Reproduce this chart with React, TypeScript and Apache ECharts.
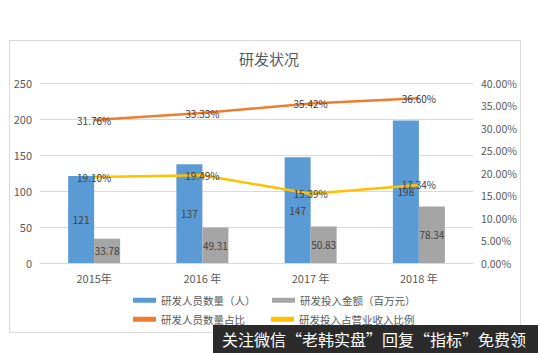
import React, { useEffect, useRef } from "react";
import * as echarts from "echarts";

const categories = ["2015年", "2016 年", "2017 年", "2018 年"];
const staffCount = [121, 137, 147, 198];
const rdSpend = [33.78, 49.31, 50.83, 78.34];
const staffRatio = [31.76, 33.33, 35.42, 36.6];
const spendRatio = [19.1, 19.49, 15.39, 17.34];

const names = ["研发人员数量（人）", "研发投入金额（百万元）", "研发人员数量占比", "研发投入占营业收入比例"];

const FONT = "'Noto Sans CJK SC', 'Microsoft YaHei', sans-serif";
const TXT = "#595959";

export default function App() {
  const ref = useRef<HTMLDivElement>(null);
  useEffect(() => {
    const chart = echarts.init(ref.current!, null, { renderer: "svg" });
    const legendBase = {
      itemWidth: 23,
      itemHeight: 5,
      icon: "rect",
      textStyle: { color: TXT, fontSize: 10.5, fontFamily: FONT },
      itemGap: 2,
    };
    const lineLabel = {
      show: true,
      position: "inside",
      color: "#404040",
      fontSize: 10,
      fontFamily: FONT,
      formatter: (p: any) => p.value.toFixed(2) + "%",
    };
    chart.setOption({
      animation: false,
      backgroundColor: "#fff",
      textStyle: { fontFamily: FONT },
      title: {
        text: "研发状况",
        left: "center",
        top: 46,
        textStyle: { color: TXT, fontSize: 15, fontWeight: "normal", fontFamily: FONT },
      },
      graphic: [
        {
          type: "rect",
          shape: { x: 9.5, y: 40.5, width: 511, height: 292 },
          style: { fill: "none", stroke: "#d9d9d9", lineWidth: 1 },
          z: -1,
        },
        {
          type: "rect",
          shape: { x: 213, y: 325, width: 325, height: 28 },
          style: { fill: "#2b2b2b" },
          z: 100,
        },
        {
          type: "text",
          x: 222,
          y: 339,
          style: {
            text: "关注微信“老韩实盘”回复“指标”免费领",
            fill: "#ffffff",
            fontSize: 16,
            fontFamily: FONT,
            verticalAlign: "middle",
          },
          z: 101,
        },
      ],
      legend: [
        { ...legendBase, data: [names[0]], left: 128, top: 290 },
        { ...legendBase, data: [names[1]], left: 267, top: 290 },
        { ...legendBase, data: [names[2]], left: 128, top: 309 },
        { ...legendBase, data: [names[3]], left: 266, top: 309 },
      ],
      grid: { left: 40, right: 65, top: 83, bottom: 90 },
      xAxis: {
        type: "category",
        data: categories,
        axisTick: { show: false },
        axisLine: { lineStyle: { color: "#d9d9d9" } },
        axisLabel: { color: TXT, fontSize: 11, margin: 9, fontFamily: FONT },
      },
      yAxis: [
        {
          type: "value",
          min: 0,
          max: 250,
          interval: 50,
          axisLabel: { color: TXT, fontSize: 11, margin: 8, fontFamily: FONT },
          splitLine: { lineStyle: { color: "#d9d9d9" } },
          axisLine: { show: false },
          axisTick: { show: false },
        },
        {
          type: "value",
          min: 0,
          max: 40,
          interval: 5,
          position: "right",
          axisLabel: {
            color: TXT,
            fontSize: 10.5,
            margin: 8,
            fontFamily: FONT,
            formatter: (v: number) => v.toFixed(2) + "%",
          },
          splitLine: { show: false },
          axisLine: { show: false },
          axisTick: { show: false },
        },
      ],
      series: [
        {
          name: names[0],
          type: "bar",
          data: staffCount,
          barWidth: 26,
          barGap: "0%",
          itemStyle: { color: "#5B9BD5" },
          label: { show: true, position: "inside", color: "#404040", fontSize: 10, fontFamily: FONT },
        },
        {
          name: names[1],
          type: "bar",
          data: rdSpend,
          barWidth: 26,
          barGap: "0%",
          itemStyle: { color: "#A5A5A5" },
          label: { show: true, position: "inside", color: "#404040", fontSize: 10, fontFamily: FONT },
        },
        {
          name: names[2],
          type: "line",
          yAxisIndex: 1,
          data: staffRatio,
          symbol: "circle",
          symbolSize: 1,
          lineStyle: { color: "#ED7D31", width: 2.5 },
          itemStyle: { color: "#ED7D31" },
          label: lineLabel,
          z: 5,
        },
        {
          name: names[3],
          type: "line",
          yAxisIndex: 1,
          data: spendRatio,
          symbol: "circle",
          symbolSize: 1,
          lineStyle: { color: "#FFC000", width: 2.5 },
          itemStyle: { color: "#FFC000" },
          label: lineLabel,
          z: 5,
        },
      ],
    });
    return () => chart.dispose();
  }, []);
  return (
    <div
      ref={ref}
      style={{ position: "fixed", left: 0, top: 0, width: 538, height: 353 }}
    />
  );
}
